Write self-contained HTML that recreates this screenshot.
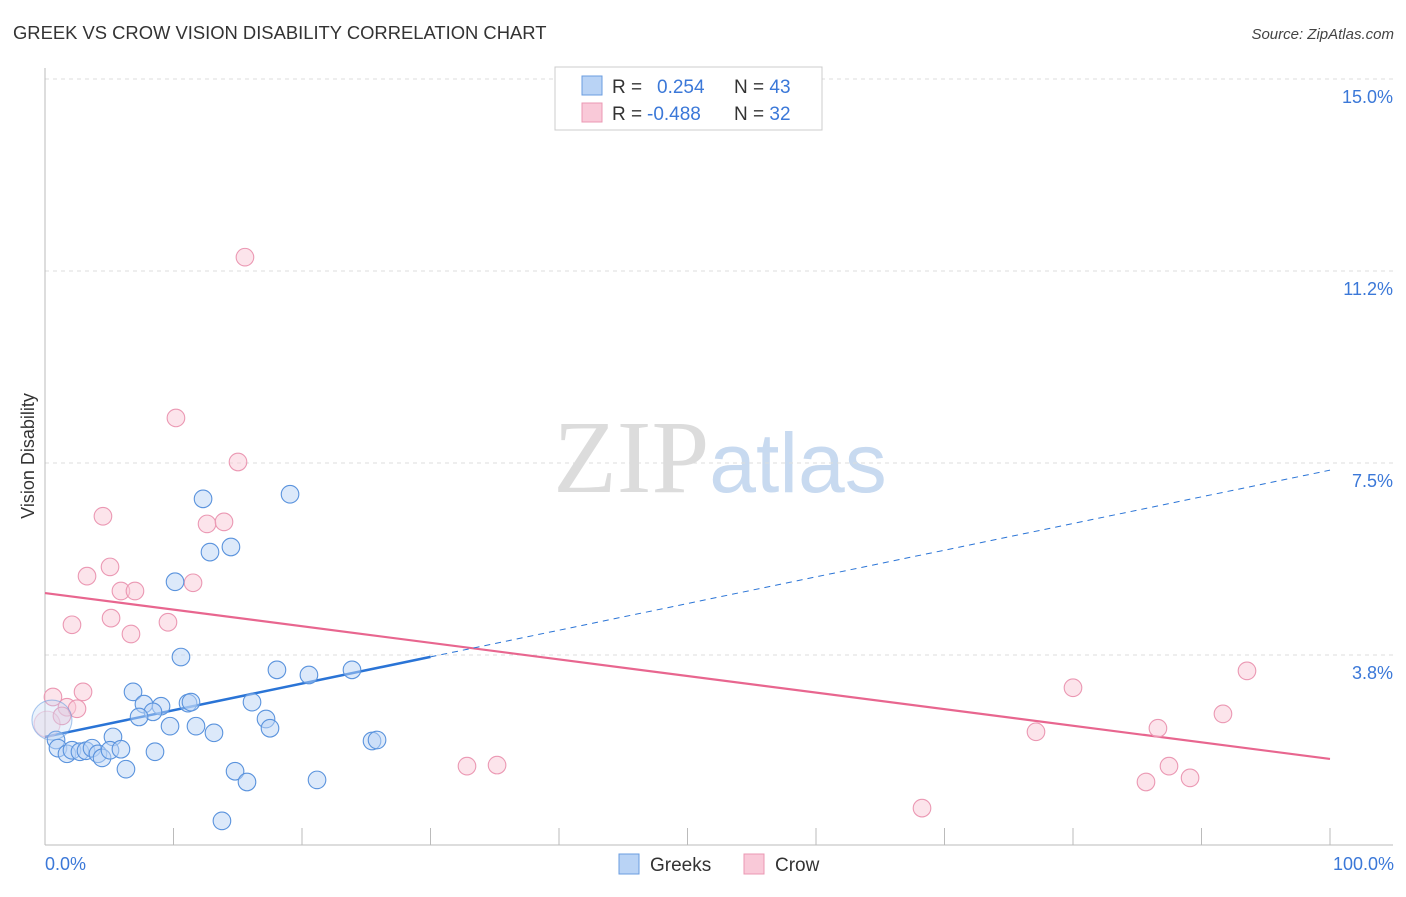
<!DOCTYPE html>
<html><head><meta charset="utf-8"><style>
body{margin:0;background:#fff;font-family:"Liberation Sans",sans-serif;}
svg text{font-family:"Liberation Sans",sans-serif;}
</style></head><body>
<svg id="chart" width="1406" height="892" viewBox="0 0 1406 892" xmlns="http://www.w3.org/2000/svg">
<text x="13" y="39" font-size="18.4" fill="#333">GREEK VS CROW VISION DISABILITY CORRELATION CHART</text>
<text x="1394" y="39" font-size="15" fill="#444" text-anchor="end" font-style="italic">Source: ZipAtlas.com</text>
<text x="720" y="492" font-size="104" text-anchor="middle"><tspan font-family="Liberation Serif,serif" fill="#dcdcdc">ZIP</tspan><tspan fill="#c8daf0" font-size="84">atlas</tspan></text>
<g id="grid"></g>
<line x1="45" y1="68" x2="45" y2="845" stroke="#bbb"/>
<line x1="45" y1="845" x2="1393" y2="845" stroke="#bbb"/>
<g id="ticks"></g>
<text transform="translate(34,456) rotate(-90)" font-size="18" fill="#333" text-anchor="middle">Vision Disability</text>
<text x="45" y="870" font-size="18" fill="#3b78d8">0.0%</text>
<text x="1394" y="870" font-size="18" fill="#3b78d8" text-anchor="end">100.0%</text>
<g id="lines"></g>
<g id="points"></g>
<g>
<rect x="555" y="67" width="267" height="63" fill="#fff" stroke="#ccc"/>
<rect x="582" y="76" width="20" height="19" fill="#b9d3f5" stroke="#6a9de0"/>
<rect x="582" y="103" width="20" height="19" fill="#f9c9d8" stroke="#eb98b3"/>
<text x="612" y="93" font-size="19" fill="#333">R = <tspan fill="#3b78d8" x="657">0.254</tspan><tspan x="734" fill="#333">N = </tspan><tspan fill="#3b78d8">43</tspan></text>
<text x="612" y="120" font-size="19" fill="#333">R = <tspan fill="#3b78d8" x="647">-0.488</tspan><tspan x="734" fill="#333">N = </tspan><tspan fill="#3b78d8">32</tspan></text>
</g>
<g>
<rect x="619" y="854" width="20" height="20" fill="#b9d3f5" stroke="#6a9de0"/>
<text x="650" y="871" font-size="19" fill="#333">Greeks</text>
<rect x="744" y="854" width="20" height="20" fill="#f9c9d8" stroke="#eb98b3"/>
<text x="775" y="871" font-size="19" fill="#333">Crow</text>
</g>
</svg>
<script>
const yTicks=[15.0,11.25,7.5,3.75];
const yTickLabels=["15.0%","11.2%","7.5%","3.8%"];
const xTicks=[0,10,20,30,40,50,60,70,80,90,100];
const greeksX=[12.3,19.07,12.84,14.47,10.12,10.58,18.05,20.54,23.89,6.85,7.70,9.03,11.13,11.36,8.40,7.32,16.11,17.20,17.51,9.73,11.75,13.15,5.29,0.86,1.01,1.71,2.10,2.72,3.19,3.66,4.12,4.44,5.06,5.91,8.56,6.30,14.79,15.72,21.17,25.45,25.84,13.77,0.54];
const greeksY=[6.80,6.89,5.76,5.86,5.18,3.71,3.46,3.36,3.46,3.03,2.79,2.75,2.81,2.83,2.64,2.54,2.83,2.50,2.32,2.36,2.36,2.23,2.15,2.09,1.93,1.82,1.89,1.86,1.88,1.93,1.82,1.74,1.89,1.91,1.86,1.52,1.48,1.27,1.31,2.07,2.09,0.51,2.48];
const crowX=[15.56,10.19,15.02,4.51,12.61,13.93,3.27,5.06,11.52,5.91,7.00,2.10,5.14,6.69,9.57,0.62,2.96,1.71,2.49,1.32,0.16,32.84,35.18,68.25,77.12,80.00,85.68,86.61,87.47,89.11,91.67,93.54];
const crowY=[11.52,8.38,7.52,6.46,6.31,6.35,5.29,5.47,5.16,5.00,5.00,4.34,4.47,4.16,4.39,2.93,3.03,2.73,2.70,2.56,2.40,1.58,1.60,0.76,2.25,3.11,1.27,2.32,1.58,1.35,2.60,3.44];
const greeksTrend=[2.15,7.36];
const crowTrend=[4.96,1.72];
const NS="http://www.w3.org/2000/svg";
const xs=v=>45+v*12.85;
const ys=v=>847-v*51.2;
function mk(tag,attrs,parent){const e=document.createElementNS(NS,tag);for(const k in attrs)e.setAttribute(k,attrs[k]);document.getElementById(parent).appendChild(e);return e;}
yTicks.forEach((t,i)=>{
  const l=mk('line',{x1:45,x2:1393,y1:ys(t),y2:ys(t),stroke:'#ddd','stroke-dasharray':'4,4'},'grid');
  
  
  const tx=mk('text',{x:1393,y:ys(t)+24,'font-size':18,fill:'#3b78d8','text-anchor':'end'},'grid');
  tx.textContent=yTickLabels[i];
  
  
});
xTicks.forEach(t=>{
  const l=mk('line',{x1:xs(t),x2:xs(t),y1:828,y2:845,stroke:'#bbb'},'ticks');
  
  
});
function pt(x,y,r,fill,stroke,name,op){
  const c=mk('circle',{cx:xs(x),cy:ys(y),r:r,fill:fill,'fill-opacity':op,stroke:stroke,'stroke-width':1.1,'stroke-opacity':op<0.4?0.5:1},'points');
  
  
}
crowX.forEach((x,i)=>pt(x,crowY[i],i===20?13:8.8,'#f9c9d8','#eb98b3','crow-point',i===20?0.3:0.5));
greeksX.forEach((x,i)=>pt(x,greeksY[i],i===42?20:8.8,'#b9d3f5','#5a93dd','greeks-point',i===42?0.3:0.5));
const gAt=x=>greeksTrend[0]+(greeksTrend[1]-greeksTrend[0])*x/100;
const cAt=x=>crowTrend[0]+(crowTrend[1]-crowTrend[0])*x/100;
let l1=mk('line',{x1:xs(0),y1:ys(cAt(0)),x2:xs(100),y2:ys(cAt(100)),stroke:'#e8668f','stroke-width':2.2},'lines');


let l2=mk('line',{x1:xs(0),y1:ys(gAt(0)),x2:xs(30),y2:ys(gAt(30)),stroke:'#2a74d6','stroke-width':2.5},'lines');


let l3=mk('line',{x1:xs(30),y1:ys(gAt(30)),x2:xs(100),y2:ys(gAt(100)),stroke:'#2a74d6','stroke-width':1,'stroke-dasharray':'6,5'},'lines');


</script>
</body></html>
